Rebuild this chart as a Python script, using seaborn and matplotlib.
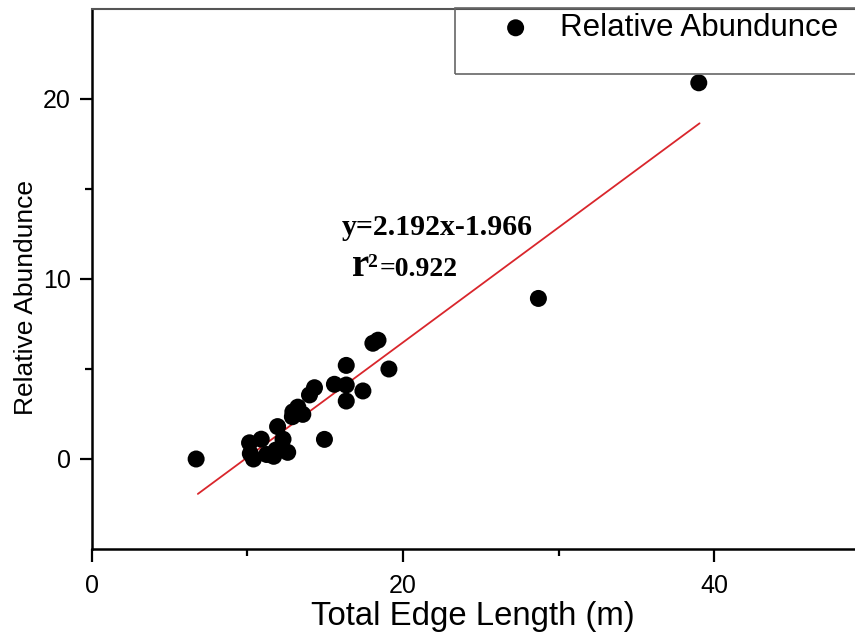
import matplotlib
matplotlib.use("Agg")
import matplotlib.pyplot as plt
import seaborn as sns
import pandas as pd
from matplotlib.patches import Rectangle

# ---- data ----
edge_length = [6.72, 10.15, 10.2, 10.4, 10.9, 11.25, 11.7, 11.85, 11.95, 12.3,
               12.6, 12.9, 12.93, 13.25, 13.57, 14.0, 14.32, 14.96, 15.6, 16.36,
               16.36, 16.36, 17.43, 18.07, 18.4, 19.1, 28.7, 39.0]
rel_abund = [0.0, 0.9, 0.3, 0.0, 1.1, 0.25, 0.15, 0.5, 1.8, 1.1,
             0.37, 2.35, 2.62, 2.88, 2.48, 3.56, 3.96, 1.09, 4.15, 4.11,
             5.2, 3.22, 3.78, 6.43, 6.6, 5.0, 8.92, 20.9]
fit_x = [6.83, 39.05]
fit_y = [-1.94, 18.65]
x_major = [0, 20, 40]
x_minor = [10, 30]
y_major = [0, 10, 20]
y_minor = [5, 15]
equation = "y=2.192x-1.966"
r2_value = "=0.922"
series_name = "Relative Abundunce"

df = pd.DataFrame({"Total Edge Length (m)": edge_length, "Relative Abundunce": rel_abund})
fit = pd.DataFrame({"x": fit_x, "y": fit_y})

sns.set_style("ticks")
plt.rcParams["font.family"] = ["Liberation Sans", "DejaVu Sans"]
for k in ["text.color", "axes.labelcolor", "xtick.color", "ytick.color"]:
    plt.rcParams[k] = "black"

W, H = 855, 637
fig = plt.figure(figsize=(W / 100, H / 100), dpi=100)
ax = fig.add_axes([91.5 / W, (H - 549) / H, (854.5 - 91.5) / W, (549 - 9) / H])

sns.lineplot(data=fit, x="x", y="y", ax=ax, color="#d9262c", linewidth=1.3,
             zorder=2, legend=False)
sns.scatterplot(data=df, x="Total Edge Length (m)", y="Relative Abundunce", ax=ax,
                color="black", s=150, edgecolor="none", zorder=3, label=series_name)

ax.set_xlim(0, 49)
ax.set_ylim(-5, 25)
ax.set_xticks(x_major)
ax.set_xticks(x_minor, minor=True)
ax.set_yticks(y_major)
ax.set_yticks(y_minor, minor=True)
ax.tick_params(which="major", length=9, width=1.6, labelsize=18, color="black")
ax.tick_params(which="minor", length=5, width=1.6, color="black")
ax.tick_params(axis="x", which="major", pad=9)
ax.tick_params(axis="y", which="major", pad=6)

ax.set_xlabel("Total Edge Length (m)", fontsize=23.7, labelpad=2)
ax.set_ylabel("Relative Abundunce", fontsize=19)
ax.yaxis.set_label_coords(-0.070, 0.465)

for s in ["left", "bottom"]:
    ax.spines[s].set_linewidth(1.8)
    ax.spines[s].set_color("black")
ax.spines["right"].set_visible(False)
ax.spines["top"].set_visible(True)
ax.spines["top"].set_linewidth(1.5)
ax.spines["top"].set_color("#555555")

# equation annotation
serif = ["Liberation Serif", "DejaVu Serif"]
ax.text(16.07, 12.44, equation, fontsize=21.5, fontweight="bold", family=serif,
        va="baseline", ha="left")
ax.annotate("r", xy=(16.7, 10.17), fontsize=28, fontweight="bold", family=serif,
            va="baseline", ha="left")
ax.annotate("2", xy=(16.7, 10.17), xytext=(16, 9), textcoords="offset pixels",
            fontsize=14, fontweight="bold", family=serif, va="baseline", ha="left")
ax.annotate(r2_value, xy=(16.7, 10.17), xytext=(28, 0), textcoords="offset pixels",
            fontsize=20, fontweight="bold", family=serif, va="baseline", ha="left")

# legend
leg = ax.legend(loc="center left", bbox_to_anchor=(500 / W, (H - 28) / H),
                bbox_transform=fig.transFigure, frameon=False, fontsize=22.5,
                handletextpad=0.92, borderpad=0, borderaxespad=0,
                handlelength=1.0)
fig.patches.append(Rectangle((455 / W, (H - 74) / H), 420 / W, 66 / H,
                             transform=fig.transFigure, fill=False,
                             edgecolor="#666666", linewidth=1.2, zorder=5))

fig.savefig("out.png", dpi=100)
